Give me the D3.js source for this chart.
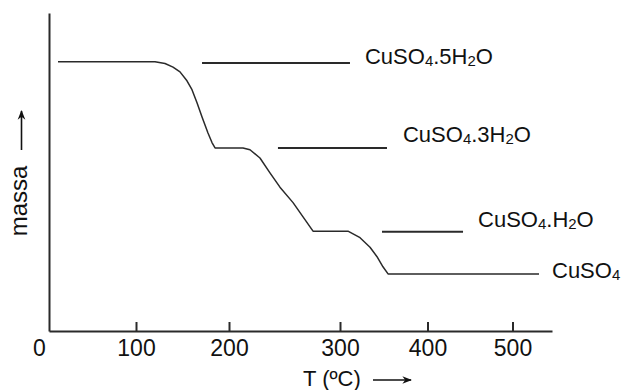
<!DOCTYPE html>
<html>
<head>
<meta charset="utf-8">
<script src="https://cdn.jsdelivr.net/npm/d3@7"></script>
<style>
  html, body { margin: 0; padding: 0; background: #fff; }
  svg { display: block; }
  text { font-family: "Liberation Sans", Arial, sans-serif; fill: #111; }
</style>
</head>
<body>
<svg id="chart" width="622" height="390"></svg>
<script>
// ---- data ----
// TGA curve of CuSO4.5H2O: temperature (°C) and mass (% of initial)
const curveT    = [19.6, 120.4, 131.2, 139.8, 147.3, 154.8, 160.2, 165.6, 171.0, 177.4, 181.7, 185.0, 212.6, 218.9, 227.9, 236.9, 245.9, 257.7, 266.7, 275.7, 309.1, 322.9, 334.3, 342.3, 349.1, 354.9, 531.2];
const curveMass = [100, 100, 99.7, 99.1, 98.3, 96.8, 95.3, 93.1, 90.7, 88.0, 86.4, 85.5, 85.5, 85.2, 83.8, 81.3, 78.9, 76.3, 73.9, 71.5, 71.5, 70.4, 68.8, 67.2, 65.5, 64.3, 64.3];

// labelled species and their guide lines
const speciesNames  = ["CuSO4.5H2O", "CuSO4.3H2O", "CuSO4.H2O", "CuSO4"];
const speciesMass   = [99.8, 85.5, 71.4, 64.3];
const guideStartT   = [171.0, 244.1, 348.0, null];
const guideEndT     = [311.4, 353.7, 441.8, 531.2];

// axis ticks (the hand-drawn axis is not evenly spaced)
const xTickValues = [0, 100, 200, 300, 400, 500];
const xAxisStart = 10.3, xAxisEnd = 546.5;
const yDomain = [54.7, 108.2];

const xTitle = "T (ºC)";
const yTitle = "massa";

// ---- drawing ----
const svg = d3.select("#chart");
const x = d3.scaleLinear()
  .domain([xAxisStart, 100, 200, 300, 400, 500, xAxisEnd])
  .range([49, 136, 229, 340, 427.5, 512.5, 552]);
const y = d3.scaleLinear().domain(yDomain).range([331, 13]);

const ink = "#2a2a2a";

// x axis
const xAxis = svg.append("g")
  .attr("transform", `translate(0,${y(yDomain[0])})`)
  .call(d3.axisBottom(x).tickValues(xTickValues).tickSizeInner(-9).tickSizeOuter(0).tickPadding(9));
xAxis.select(".domain").attr("stroke", ink).attr("stroke-width", 2);
xAxis.selectAll(".tick line").attr("stroke", ink).attr("stroke-width", 2)
  .attr("display", d => d === 0 ? "none" : null);
xAxis.selectAll(".tick text")
  .style("font-family", '"Liberation Sans", Arial, sans-serif')
  .attr("font-size", 23).attr("fill", "#111");

// y axis (line only)
const yAxis = svg.append("g")
  .attr("transform", `translate(${x(xAxisStart)},0)`)
  .call(d3.axisLeft(y).tickValues([]).tickSizeOuter(0));
yAxis.select(".domain").attr("stroke", ink).attr("stroke-width", 2);

// curve
const line = d3.line().x((d, i) => x(curveT[i])).y((d, i) => y(curveMass[i]));
svg.append("path")
  .datum(curveT)
  .attr("d", line)
  .attr("fill", "none")
  .attr("stroke", ink)
  .attr("stroke-width", 1.5)
  .attr("stroke-linejoin", "round");

// guide lines
speciesNames.forEach((name, i) => {
  if (guideStartT[i] !== null) {
    svg.append("line")
      .attr("x1", x(guideStartT[i])).attr("x2", x(guideEndT[i]))
      .attr("y1", y(speciesMass[i])).attr("y2", y(speciesMass[i]))
      .attr("stroke", ink).attr("stroke-width", 2);
  }
});

// species labels with subscripts
const labelGap = [15, 16, 15, 13];
const labelDy  = [1, -6, -5, 4];
const fs = 22;
speciesNames.forEach((name, i) => {
  const t = svg.append("text")
    .attr("x", x(guideEndT[i]) + labelGap[i])
    .attr("y", y(speciesMass[i]) + labelDy[i])
    .attr("font-size", fs);
  // split: digit preceded by a letter -> subscript
  const parts = [];
  for (let k = 0; k < name.length; k++) {
    const ch = name[k];
    const sub = /\d/.test(ch) && k > 0 && /[A-Za-z]/.test(name[k - 1]);
    if (parts.length && parts[parts.length - 1].sub === sub) parts[parts.length - 1].s += ch;
    else parts.push({ s: ch, sub });
  }
  let shifted = false;
  parts.forEach(p => {
    const ts = t.append("tspan").text(p.s);
    if (p.sub) { ts.attr("font-size", fs * 0.68).attr("dy", 2.5); shifted = true; }
    else if (shifted) { ts.attr("dy", -2.5); shifted = false; }
  });
});

// x title with arrow
svg.append("text").attr("x", 303).attr("y", 386).attr("font-size", 22).text(xTitle);
svg.append("defs").append("marker")
  .attr("id", "ah").attr("viewBox", "0 0 10 10").attr("refX", 9).attr("refY", 5)
  .attr("markerWidth", 6).attr("markerHeight", 6).attr("orient", "auto")
  .append("path").attr("d", "M0,1 L10,5 L0,9 L3,5 Z").attr("fill", "#111");
svg.append("line").attr("x1", 373).attr("x2", 411).attr("y1", 380).attr("y2", 380)
  .attr("stroke", "#111").attr("stroke-width", 1.6).attr("marker-end", "url(#ah)");

// y title with arrow
svg.append("text")
  .attr("transform", "translate(27,201) rotate(-90)")
  .attr("text-anchor", "middle")
  .attr("font-size", 24)
  .text(yTitle);
svg.append("line").attr("x1", 21.5).attr("x2", 21.5).attr("y1", 150).attr("y2", 111)
  .attr("stroke", "#111").attr("stroke-width", 1.6).attr("marker-end", "url(#ah)");
</script>
</body>
</html>
